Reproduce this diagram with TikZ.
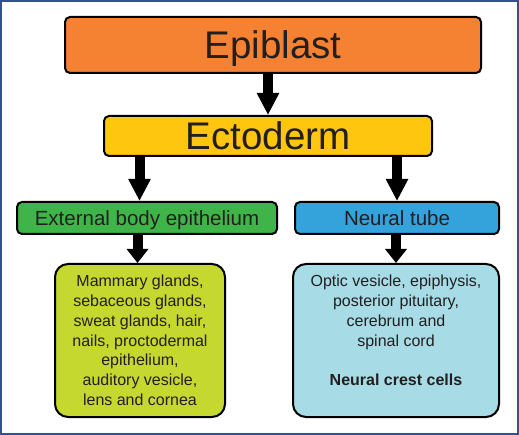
\documentclass[tikz,border=0pt]{standalone}
\usepackage{fontspec}
\setmainfont{Liberation Sans}
\usetikzlibrary{arrows.meta}
\definecolor{orangeE}{HTML}{F58232}
\definecolor{yellowE}{HTML}{FFC60F}
\definecolor{greenE}{HTML}{3FB549}
\definecolor{blueE}{HTML}{34A3DB}
\definecolor{lgreenE}{HTML}{C5D82F}
\definecolor{lblueE}{HTML}{A7DBE6}
\definecolor{frameE}{HTML}{34518F}
\definecolor{textE}{HTML}{231F20}
\tikzset{
  hbox/.style={draw=black, line width=2pt, rounded corners=5pt, text=textE,
    inner sep=0pt, anchor=center},
  bbox/.style={draw=black, line width=2pt, rounded corners=13pt, inner sep=0pt, anchor=center},
  btext/.style={text=textE, align=center, inner sep=0pt, anchor=north,
    font=\fontsize{16}{19.8}\selectfont},
  bigarrow/.style={line width=10pt, draw=black,
    -{Triangle[width=21pt,length=22pt]}},
  smallarrow/.style={line width=10pt, draw=black,
    -{Triangle[width=21pt,length=14pt]}}
}
\begin{document}
\begin{tikzpicture}[x=1pt,y=-1pt]
\useasboundingbox (0,0) rectangle (519,435);
\draw[frameE, line width=2pt] (1,1) rectangle (518,434);

\node[hbox, fill=orangeE, minimum width=416pt, minimum height=56pt,
  font=\fontsize{38.5}{40}\selectfont, text height=28pt, text depth=0pt]
  (epi) at (273,45) {Epiblast};
\node[hbox, fill=yellowE, minimum width=328pt, minimum height=40pt,
  font=\fontsize{38.5}{40}\selectfont, text height=27.5pt, text depth=0pt]
  (ecto) at (268,136) {Ectoderm};
\node[hbox, fill=greenE, minimum width=260pt, minimum height=32pt,
  font=\fontsize{20.5}{22}\selectfont, text height=14.8pt, text depth=0pt]
  (ext) at (147,218) {External body epithelium};
\node[hbox, fill=blueE, minimum width=204pt, minimum height=32pt,
  font=\fontsize{20.5}{22}\selectfont, text height=14.8pt, text depth=0pt]
  (neu) at (397,218) {Neural tube};

\node[bbox, fill=lgreenE, minimum width=170pt, minimum height=153pt]
  (lb) at (140,340.5) {};
\node[btext] (lbt) at ([yshift=-12pt]lb.north)
  {Mammary glands,\\sebaceous glands,\\sweat glands, hair,\\nails, proctodermal\\epithelium,\\auditory vesicle,\\lens and cornea};
\node[bbox, fill=lblueE, minimum width=206pt, minimum height=153pt]
  (rb) at (396,340.5) {};
\node[btext] (rbt) at ([yshift=-12pt]rb.north)
  {Optic vesicle, epiphysis,\\posterior pituitary,\\cerebrum and\\spinal cord\\[19.8pt]\textbf{Neural crest cells}};

\draw[bigarrow] (epi.south -| ecto.north) -- (ecto.north);
\draw[bigarrow] (ecto.south -| 139.5,0) -- (ext.north -| 139.5,0);
\draw[bigarrow] (ecto.south -| neu.north) -- (neu.north);
\draw[smallarrow] (ext.south -| 137.5,0) -- (lb.north -| 137.5,0);
\draw[smallarrow] (neu.south -| rb.north) -- (rb.north);
\end{tikzpicture}
\end{document}
